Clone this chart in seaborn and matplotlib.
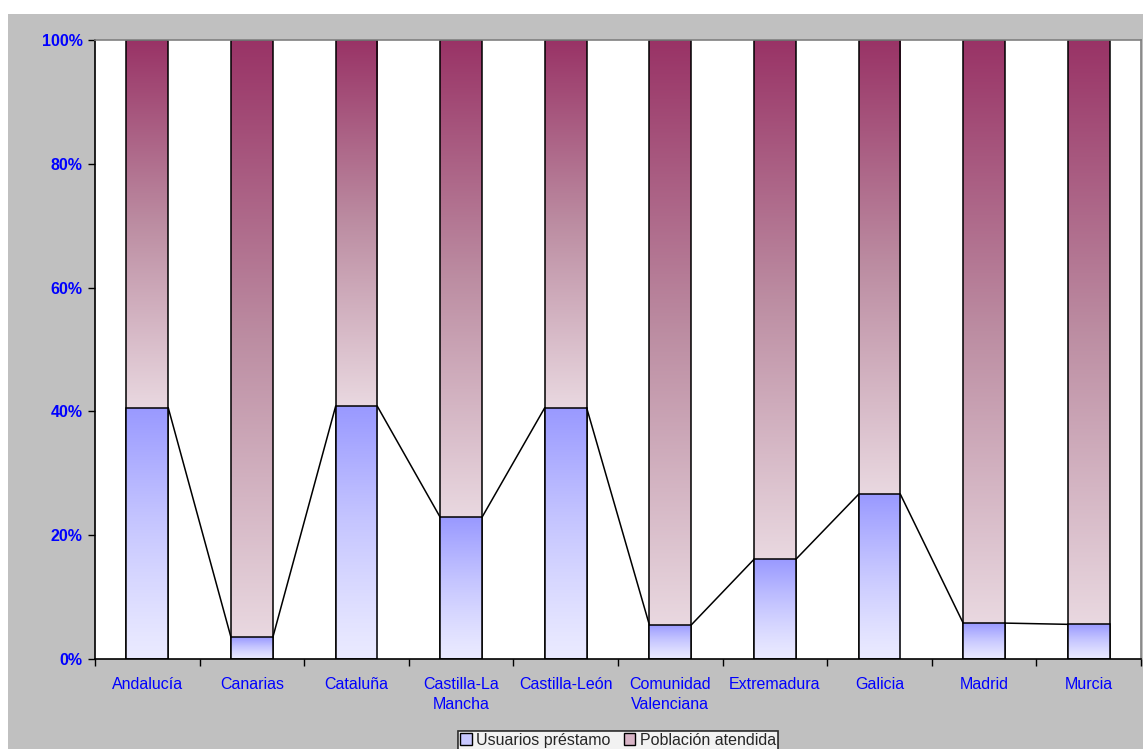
import matplotlib

matplotlib.use("Agg")

import matplotlib.colors as mcolors
import matplotlib.pyplot as plt
import numpy as np
import pandas as pd
import seaborn as sns
from matplotlib.patches import Patch, Rectangle

# data (share of "Usuarios préstamo", %)
regions = [
    "Andalucía", "Canarias", "Cataluña", "Castilla-La\nMancha", "Castilla-León",
    "Comunidad\nValenciana", "Extremadura", "Galicia", "Madrid", "Murcia",
]
usuarios_pct = [40.6, 3.5, 40.8, 22.9, 40.6, 5.5, 16.1, 26.6, 5.8, 5.6]
total_pct = [100] * len(regions)
y_ticks = [0, 20, 40, 60, 80, 100]

BLUE_STOPS = ["#EAEAFF", "#C4C4FF", "#9999FF"]
PINK_STOPS = ["#E9D8E0", "#BC8DA2", "#993366"]
TEXT_BLUE = "#0000FF"
BAR_W = 0.4

df = pd.DataFrame({"region": regions, "usuarios": usuarios_pct, "total": total_pct})

sns.set_theme(style="white")
plt.rcParams["font.family"] = ["Liberation Sans", "DejaVu Sans"]

fig = plt.figure(figsize=(11.43, 7.49), dpi=100)
fig.patch.set_facecolor("white")
fig.add_artist(Rectangle((8 / 1143, 0), 1, 1 - 14 / 749, transform=fig.transFigure,
                         facecolor="#C0C0C0", edgecolor="none", zorder=-10))

ax = fig.add_axes([95 / 1143, 1 - 659 / 749, (1141 - 95) / 1143, (659 - 40) / 749])
ax.set_facecolor("white")

sns.barplot(data=df, x="region", y="total", order=regions, width=BAR_W,
            facecolor="none", edgecolor="black", linewidth=1.1, ax=ax, zorder=2)
n_pink = len(ax.patches)
sns.barplot(data=df, x="region", y="usuarios", order=regions, width=BAR_W,
            facecolor="none", edgecolor="black", linewidth=1.1, ax=ax, zorder=3)


def gradient(stops, n=256, gamma=1.0):
    cmap = mcolors.LinearSegmentedColormap.from_list("g", stops)
    t = np.linspace(0, 1, n) ** gamma
    return cmap(t)[:, None, :3]


pink_img = gradient(PINK_STOPS)
blue_img = gradient(BLUE_STOPS, gamma=1.2)

for i, patch in enumerate(ax.patches):
    x0 = patch.get_x()
    w = patch.get_width()
    if i < n_pink:
        lo, hi, img, z = usuarios_pct[i], 100, pink_img, 1.5
    else:
        j = i - n_pink
        lo, hi, img, z = 0, usuarios_pct[j], blue_img, 2.5
    im = ax.imshow(img, extent=(x0, x0 + w, lo, hi), origin="lower",
                   aspect="auto", interpolation="bilinear", zorder=z)
    im.set_clip_path(patch)

# series lines between the tops of the lower segment
for i in range(len(regions) - 1):
    ax.plot([i + BAR_W / 2, i + 1 - BAR_W / 2], [usuarios_pct[i], usuarios_pct[i + 1]],
            color="black", lw=1.1, zorder=4)

ax.set_xlim(-0.5, len(regions) - 0.5)
ax.set_ylim(0, 100)
ax.set_xlabel("")
ax.set_ylabel("")

ax.set_yticks(y_ticks)
ax.set_yticklabels([f"{v}%" for v in y_ticks], fontsize=11.5, fontweight="bold",
                   color=TEXT_BLUE)
ax.tick_params(axis="y", direction="out", length=5, width=1, color="black",
               pad=4, left=True)

ax.set_xticks(range(len(regions)))
ax.set_xticklabels(regions, fontsize=11.5, color=TEXT_BLUE, linespacing=1.45)
ax.set_xticks(np.arange(-0.5, len(regions)), minor=True)
ax.tick_params(axis="x", which="major", length=0, pad=13)
ax.tick_params(axis="x", which="minor", direction="out", length=5, width=1,
               color="black", bottom=True)

for side in ("left", "bottom"):
    ax.spines[side].set_color("black")
    ax.spines[side].set_linewidth(1.2)
for side in ("top", "right"):
    ax.spines[side].set_visible(True)
    ax.spines[side].set_color("#808080")
    ax.spines[side].set_linewidth(1.2)

handles = [
    Patch(facecolor="#C8C8FF", edgecolor="black", label="Usuarios préstamo"),
    Patch(facecolor="#D8B4C6", edgecolor="black", label="Población atendida"),
]
leg = fig.legend(handles=handles, loc="upper center", ncol=2,
                 bbox_to_anchor=(618 / 1143, 1 - 731 / 749), frameon=True,
                 fancybox=False, edgecolor="black", fontsize=11.5,
                 handlelength=0.75, handleheight=0.75, handletextpad=0.3,
                 columnspacing=0.8, borderpad=0.12, borderaxespad=0)
leg.get_frame().set_linewidth(1.2)
leg.get_frame().set_facecolor("white")

fig.savefig("out.png", dpi=100)
plt.close(fig)
